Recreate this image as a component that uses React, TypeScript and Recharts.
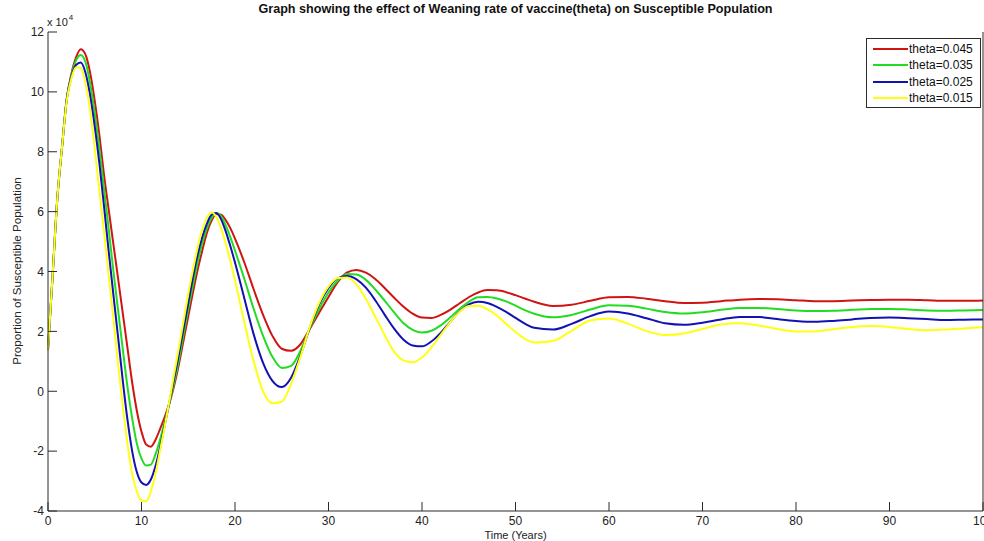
import { LineChart, Line, XAxis, YAxis, Legend } from "recharts";

// time in years
const times = [
  0, 0.5, 1, 1.5, 2, 2.5, 3, 3.5, 4, 4.5, 5, 5.5, 6, 6.5, 7, 7.5, 8, 8.5, 9, 9.5, 10,
  10.5, 11, 11.5, 12, 12.5, 13, 13.5, 14, 14.5, 15, 15.5, 16, 16.5, 17, 17.5, 18, 18.5, 19, 19.5, 20,
  21, 22, 23, 24, 25, 26, 27, 28, 29, 30, 31, 32, 33, 34, 35, 36, 37, 38, 39, 40, 41, 42, 43, 44, 45,
  46, 47, 48, 49, 50, 51,
  52, 54, 56, 58, 60, 62, 64, 66, 68, 70, 72, 74, 76, 78, 80, 82, 84, 86, 88, 90, 92, 94, 96, 98, 100,
];

// susceptible population, in units of 10^4
const theta045 = [
  1.4, 3.9, 6.45, 8.15, 9.75, 10.6, 11.15, 11.42, 11.25, 10.65, 9.7, 8.55, 7.2, 6.05, 4.9, 3.75, 2.6, 1.45, 0.3, -0.65, -1.35,
  -1.78, -1.85, -1.62, -1.25, -0.85, -0.38, 0.2, 0.9, 1.7, 2.5, 3.3, 4.05, 4.7, 5.3, 5.7, 5.92, 5.9, 5.72, 5.45, 5.1,
  4.3, 3.4, 2.55, 1.85, 1.42, 1.35, 1.57, 2.08, 2.62, 3.15, 3.65, 3.97, 4.05, 3.96, 3.75, 3.45, 3.13, 2.83, 2.59, 2.46,
  2.45, 2.55, 2.72, 2.93, 3.14, 3.3, 3.38, 3.37, 3.31, 3.21, 3.1,
  2.99, 2.85, 2.89, 3.02, 3.14, 3.15, 3.09, 3.01, 2.95, 2.96, 3.01, 3.06, 3.08, 3.07, 3.04, 3.01, 3.01, 3.03, 3.05, 3.06,
  3.06, 3.04, 3.02, 3.02, 3.03,
];
const theta035 = [
  1.4, 3.9, 6.45, 8.15, 9.75, 10.55, 11.05, 11.23, 11.0, 10.3, 9.3, 8.1, 6.75, 5.4, 4.0, 2.7, 1.4, 0.15, -0.9, -1.75, -2.25,
  -2.48, -2.45, -2.1, -1.6, -1.0, -0.38, 0.3, 1.05, 1.9, 2.75, 3.55, 4.3, 4.95, 5.45, 5.8, 5.95, 5.85, 5.55, 5.15, 4.7,
  3.75, 2.75, 1.85, 1.15, 0.78, 0.85, 1.35, 2.1, 2.75, 3.3, 3.7, 3.92, 3.9, 3.72, 3.4, 3.03, 2.64, 2.28, 2.05, 1.96,
  2.02, 2.2, 2.46, 2.75, 2.99, 3.14, 3.15, 3.1, 3.0, 2.86, 2.71,
  2.59, 2.47, 2.55, 2.73, 2.87, 2.86, 2.76, 2.65, 2.6, 2.64, 2.72, 2.78, 2.78, 2.75, 2.7, 2.68, 2.69, 2.72, 2.75, 2.75,
  2.73, 2.7, 2.69, 2.7, 2.71,
];
const theta025 = [
  1.4, 3.9, 6.45, 8.15, 9.75, 10.5, 10.9, 10.98, 10.65, 9.9, 8.85, 7.6, 6.15, 4.65, 3.2, 1.8, 0.35, -0.95, -2.0, -2.7, -3.05,
  -3.13, -2.95, -2.5, -1.85, -1.1, -0.35, 0.45, 1.25, 2.1, 2.95, 3.8, 4.55, 5.15, 5.6, 5.9, 5.95, 5.75, 5.35, 4.85, 4.3,
  3.1, 1.9, 0.95, 0.35, 0.14, 0.45, 1.2, 2.12, 2.9, 3.45, 3.78, 3.85, 3.74, 3.46, 3.04, 2.56, 2.1, 1.73, 1.53, 1.5,
  1.66, 1.95, 2.31, 2.66, 2.9, 2.99, 2.95, 2.82, 2.65, 2.45, 2.26,
  2.12, 2.06, 2.25, 2.51, 2.66, 2.6, 2.44, 2.27, 2.22, 2.29, 2.4, 2.48, 2.48, 2.41, 2.35, 2.32, 2.35, 2.4, 2.45, 2.46,
  2.44, 2.41, 2.38, 2.39, 2.4,
];
const theta015 = [
  1.4, 3.9, 6.45, 8.15, 9.7, 10.45, 10.82, 10.8, 10.3, 9.4, 8.1, 6.7, 5.3, 3.85, 2.4, 0.9, -0.5, -1.75, -2.75, -3.35, -3.65,
  -3.68, -3.35, -2.75, -1.95, -1.15, -0.3, 0.6, 1.45, 2.35, 3.25, 4.05, 4.8, 5.4, 5.8, 5.97, 5.82, 5.45, 4.95, 4.35, 3.7,
  2.3, 1.0, 0.0, -0.4, -0.35, 0.25, 1.15, 2.15, 2.95, 3.5, 3.78, 3.8, 3.56, 3.08, 2.49, 1.88, 1.33, 1.03, 0.97, 1.13,
  1.46, 1.88, 2.3, 2.65, 2.85, 2.86, 2.74, 2.53, 2.25, 1.98, 1.75,
  1.63, 1.68, 2.02, 2.36, 2.43, 2.26, 2.01, 1.88, 1.93, 2.08, 2.23, 2.27, 2.2, 2.08, 2.0, 2.0, 2.07, 2.15, 2.18, 2.15,
  2.08, 2.04, 2.06, 2.1, 2.14,
];

const xTicks = [0, 10, 20, 30, 40, 50, 60, 70, 80, 90, 100];
const yTicks = [-4, -2, 0, 2, 4, 6, 8, 10, 12];

const series = [
  { key: "t045", name: "theta=0.045", color: "#d01414" },
  { key: "t035", name: "theta=0.035", color: "#22dc22" },
  { key: "t025", name: "theta=0.025", color: "#1212b4" },
  { key: "t015", name: "theta=0.015", color: "#ffff14" },
];

const data = times.map((t, i) => ({
  t,
  t045: theta045[i],
  t035: theta035[i],
  t025: theta025[i],
  t015: theta015[i],
}));

const FONT = '"Liberation Sans", Arial, Helvetica, sans-serif';
const AXIS = "#2a2a2a";
const TICK = 9;

const BottomTick = (props: any) => {
  const { x, y, payload } = props;
  return (
    <g>
      <line x1={x} y1={y} x2={x} y2={y - TICK} stroke={AXIS} />
      <text x={x} y={y + 14} textAnchor="middle" fontSize={12} fill="#222" fontFamily={FONT}>
        {payload.value}
      </text>
    </g>
  );
};

const TopTick = (props: any) => {
  const { x, y } = props;
  return <line x1={x} y1={y} x2={x} y2={y + TICK} stroke={AXIS} />;
};

const LeftTick = (props: any) => {
  const { x, y, payload } = props;
  return (
    <g>
      <line x1={x} y1={y} x2={x + TICK} y2={y} stroke={AXIS} />
      <text x={x - 4} y={y} dy="0.36em" textAnchor="end" fontSize={12} fill="#222" fontFamily={FONT}>
        {payload.value}
      </text>
    </g>
  );
};

const RightTick = (props: any) => {
  const { x, y } = props;
  return <line x1={x} y1={y} x2={x - TICK} y2={y} stroke={AXIS} />;
};

// legend keeps the plotting order: red, green, blue, yellow
const renderLegend = (props: any) => {
  const payload = [...(props.payload || [])].sort(
    (a: any, b: any) =>
      series.findIndex((s) => s.name === a.value) - series.findIndex((s) => s.name === b.value)
  );
  return (
    <div
      style={{
        width: 115,
        height: 70,
        boxSizing: "border-box",
        border: `1px solid ${AXIS}`,
        background: "#fff",
        paddingTop: 2,
        fontFamily: FONT,
      }}
    >
      {payload.map((p: any) => (
        <div key={p.value} style={{ display: "flex", alignItems: "center", height: 16.3 }}>
          <svg width={35} height={6} style={{ marginLeft: 6 }}>
            <line x1={0} y1={3} x2={35} y2={3} stroke={p.color} strokeWidth={2} />
          </svg>
          <span style={{ marginLeft: 1, fontSize: 12, lineHeight: "12px", color: "#111" }}>{p.value}</span>
        </div>
      ))}
    </div>
  );
};

export default function App() {
  return (
    <div
      style={{
        position: "absolute",
        left: 0,
        top: 0,
        width: 984,
        height: 541,
        background: "#fff",
        fontFamily: FONT,
        overflow: "hidden",
      }}
    >
      <LineChart width={984} height={541} data={data} margin={{ top: 32, right: 0, bottom: 0, left: 0 }}>
        <XAxis
          dataKey="t"
          type="number"
          domain={[0, 100]}
          ticks={xTicks}
          interval={0}
          height={30}
          tickSize={0}
          tickMargin={0}
          tickLine={false}
          axisLine={{ stroke: AXIS }}
          tick={<BottomTick />}
        />
        <XAxis
          xAxisId="top"
          orientation="top"
          dataKey="t"
          type="number"
          domain={[0, 100]}
          ticks={xTicks.slice(1, -1)}
          interval={0}
          height={0}
          tickSize={0}
          tickMargin={0}
          tickLine={false}
          axisLine={{ stroke: AXIS }}
          tick={<TopTick />}
        />
        <YAxis
          type="number"
          domain={[-4, 12]}
          ticks={yTicks}
          interval={0}
          width={48}
          tickSize={0}
          tickMargin={0}
          tickLine={false}
          axisLine={{ stroke: AXIS }}
          tick={<LeftTick />}
        />
        <YAxis
          yAxisId="right"
          orientation="right"
          type="number"
          domain={[-4, 12]}
          ticks={yTicks.slice(1, -1)}
          interval={0}
          width={1}
          tickSize={0}
          tickMargin={0}
          tickLine={false}
          axisLine={{ stroke: AXIS }}
          tick={<RightTick />}
        />
        <Legend
          layout="vertical"
          align="center"
          verticalAlign="middle"
          wrapperStyle={{ left: 866, top: 38, width: 115, height: 70 }}
          content={renderLegend}
        />
        {series.map((s) => (
          <Line
            key={s.key}
            type="monotone"
            dataKey={s.key}
            name={s.name}
            stroke={s.color}
            strokeWidth={2}
            dot={false}
            activeDot={false}
            isAnimationActive={false}
          />
        ))}
      </LineChart>

      <div
        style={{
          position: "absolute",
          left: 48,
          width: 935,
          top: 2,
          textAlign: "center",
          fontSize: 12.6,
          fontWeight: "bold",
          lineHeight: "15px",
          color: "#111",
        }}
      >
        Graph showing the effect of Weaning rate of vaccine(theta) on Susceptible Population
      </div>
      <div style={{ position: "absolute", left: 47, top: 16, fontSize: 11, lineHeight: "12px", color: "#222" }}>
        x 10<span style={{ fontSize: 8, position: "relative", top: -6, marginLeft: 1 }}>4</span>
      </div>
      <div
        style={{
          position: "absolute",
          left: 17 - 150,
          top: 271 - 7,
          width: 300,
          height: 14,
          lineHeight: "14px",
          textAlign: "center",
          fontSize: 11.6,
          color: "#222",
          transform: "rotate(-90deg)",
        }}
      >
        Proportion of Susceptible Population
      </div>
      <div
        style={{
          position: "absolute",
          left: 48,
          width: 935,
          top: 528,
          lineHeight: "14px",
          textAlign: "center",
          fontSize: 11,
          color: "#222",
        }}
      >
        Time (Years)
      </div>
    </div>
  );
}
